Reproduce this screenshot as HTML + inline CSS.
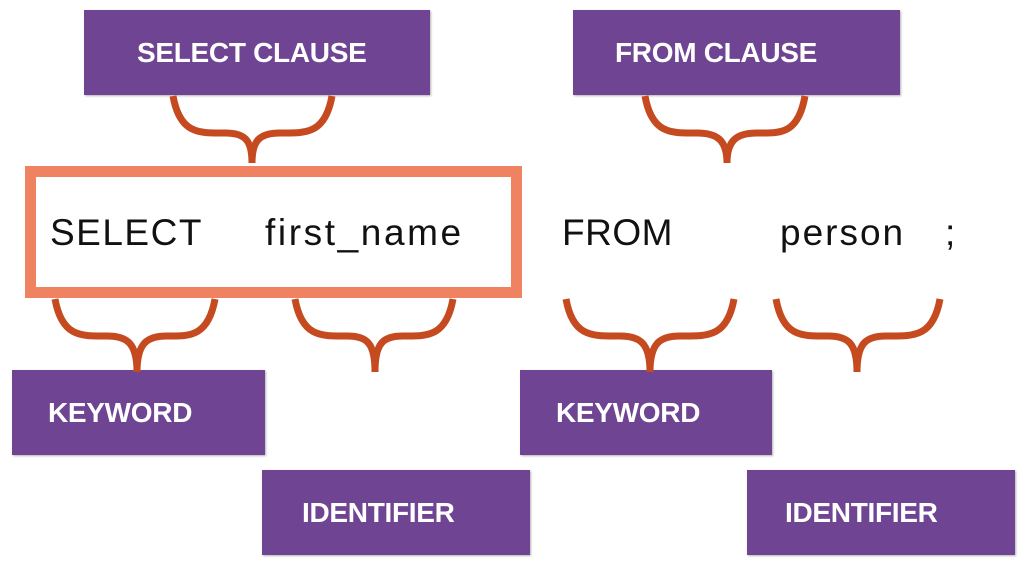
<!DOCTYPE html>
<html><head><meta charset="utf-8"><style>
body{margin:0;width:1021px;height:561px;background:#fff;overflow:hidden;position:relative;font-family:"Liberation Sans",sans-serif}
.b{position:absolute;background:#6f4593;color:#fff;font-weight:bold;font-size:28px;display:flex;align-items:center;box-shadow:1px 1px 2px rgba(0,0,0,.3);letter-spacing:-0.3px}
.t{position:absolute;font-size:37px;color:#111;top:212px;letter-spacing:1px}
.o{position:absolute;border:11px solid #ef8260}
</style></head><body>
<div class="b" style="left:84px;top:10px;width:346px;height:85px;padding-left:53px;box-sizing:border-box">SELECT CLAUSE</div>
<div class="b" style="left:573px;top:10px;width:327px;height:85px;padding-left:42px;box-sizing:border-box">FROM CLAUSE</div>
<div class="b" style="left:12px;top:370px;width:253px;height:85px;padding-left:36px;box-sizing:border-box">KEYWORD</div>
<div class="b" style="left:520px;top:370px;width:252px;height:85px;padding-left:36px;box-sizing:border-box">KEYWORD</div>
<div class="b" style="left:262px;top:470px;width:268px;height:85px;padding-left:40px;box-sizing:border-box">IDENTIFIER</div>
<div class="b" style="left:747px;top:470px;width:268px;height:85px;padding-left:38px;box-sizing:border-box">IDENTIFIER</div>
<div class="o" style="width:475px;height:110px;top:166px;left:25px"></div>
<div class="t" style="left:50px;letter-spacing:1.5px">SELECT</div>
<div class="t" style="left:265px;letter-spacing:2.6px">first_name</div>
<div class="t" style="left:562px;letter-spacing:0.5px">FROM</div>
<div class="t" style="left:780px;letter-spacing:2px">person</div>
<div class="t" style="left:945px">;</div>
<svg width="1021" height="561" style="position:absolute;left:0;top:0" fill="none" stroke="#c64a1f" stroke-width="7">
<path d="M173 96 C180 135 200 133 225 133 C245 133 252 140 252 163 M332 96 C325 135 305 133 280 133 C260 133 252 140 252 163"/>
<path d="M645 96 C652 135 672 133 697 133 C717 133 727 140 727 163 M805 96 C798 135 780 133 757 133 C737 133 727 140 727 163"/>
<path d="M55 299 C62 338 82 336 107 336 C127 336 137 343 137 372 M215 299 C208 338 188 336 167 336 C147 336 137 343 137 372"/>
<path d="M295 299 C302 338 322 336 347 336 C367 336 375 343 375 372 M453 299 C446 338 426 336 403 336 C383 336 375 343 375 372"/>
<path d="M566 299 C573 338 593 336 620 336 C640 336 650 343 650 372 M734 299 C727 338 707 336 680 336 C660 336 650 343 650 372"/>
<path d="M776 299 C783 338 803 336 828 336 C848 336 857 343 857 372 M940 299 C933 338 913 336 886 336 C866 336 857 343 857 372"/>
</svg>
</body></html>
